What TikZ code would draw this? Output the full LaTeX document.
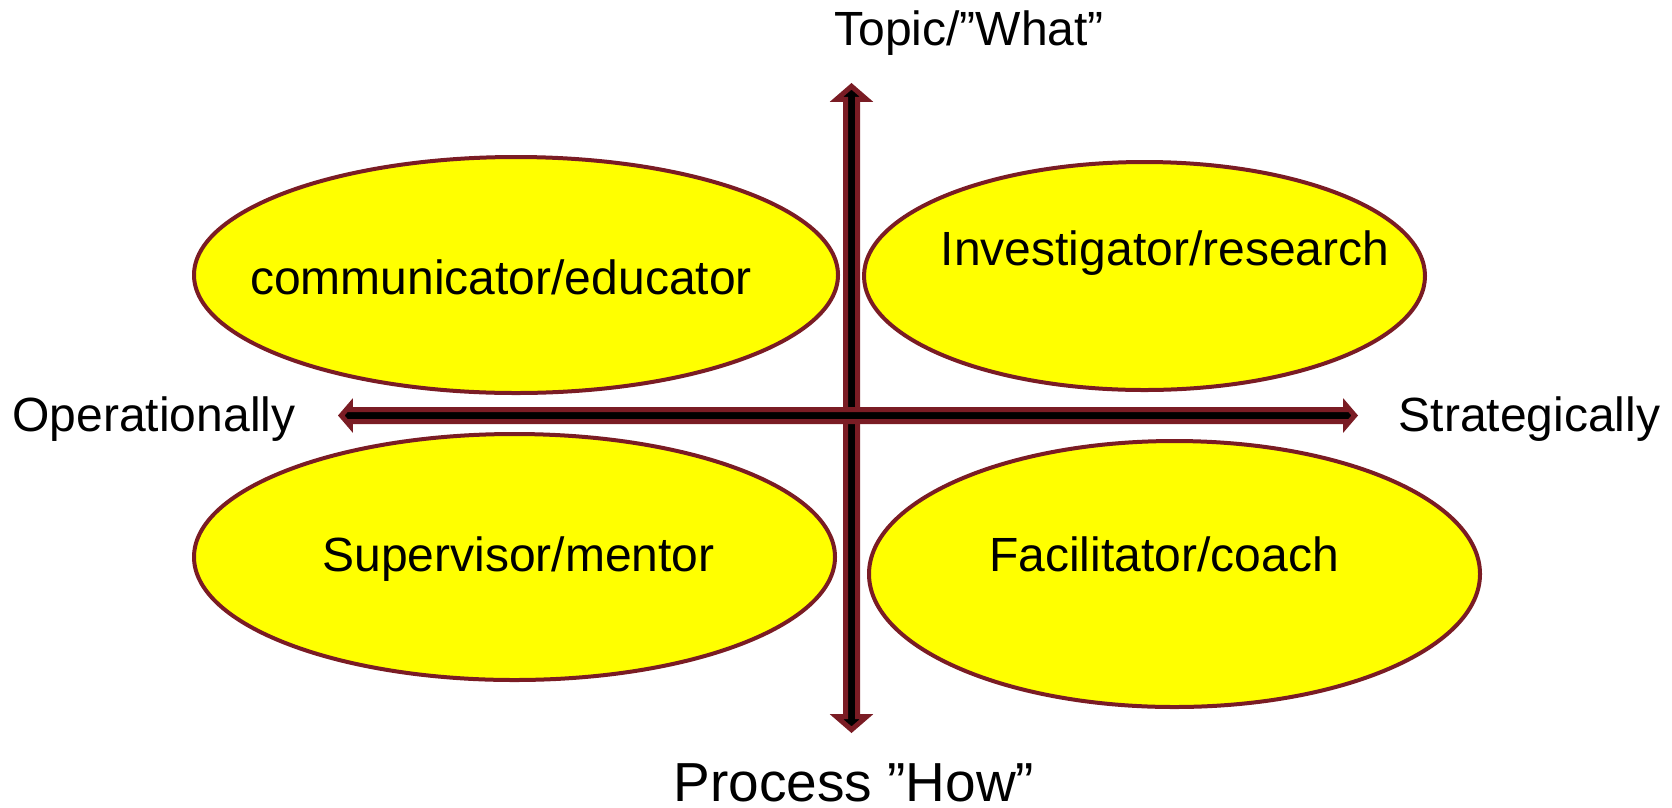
\documentclass[tikz,border=0pt]{standalone}
\usepackage{fontspec}
\setmainfont{Liberation Sans}
\usetikzlibrary{shapes.geometric,calc}
\definecolor{maroon}{RGB}{122,28,36}
\definecolor{ellyellow}{RGB}{255,255,0}
\begin{document}
\begin{tikzpicture}[x=1pt,y=-1pt,
  quad/.style={ellipse, draw=maroon, fill=ellyellow, line width=4pt, inner sep=0pt},
  roletext/.style={anchor=base, inner sep=0pt, font=\fontsize{48}{56}\selectfont},
  axistext/.style={anchor=base, inner sep=0pt, font=\fontsize{48}{56}\selectfont},
  arrowbody/.style={draw=maroon, fill=black, line width=5pt, line join=miter}]
\useasboundingbox (0,0) rectangle (1672,807);

% ellipses
\node[quad, minimum width=644pt, minimum height=236pt] (tl) at (516,275) {};
\node[quad, minimum width=561pt, minimum height=228pt] (tr) at (1144.5,276) {};
\node[quad, minimum width=641pt, minimum height=246pt] (bl) at (514.5,557) {};
\node[quad, minimum width=611pt, minimum height=266pt] (br) at (1174.5,574) {};

% role labels
\node[roletext] (tlt) at (501,294) {communicator/educator};
\node[roletext] (trt) at (1165,265) {Investigator/research};
\node[roletext] (blt) at (518.5,571) {Supervisor/mentor};
\node[roletext] (brt) at (1164,571) {Facilitator/coach};

% axis labels
\node[axistext] (top) at (969,45) {Topic/”What”};
\node[anchor=base, inner sep=0pt, text depth=0pt, font=\fontsize{55}{64}\selectfont] (bot) at (854,801) {Process ”How”};
\node[axistext] (lft) at (154,431) {Operationally};
\node[axistext] (rgt) at (1529.5,431) {Strategically};

% axes
\coordinate (vtop) at (851.5,86.3);
\coordinate (vbot) at (851.5,729.7);
\coordinate (hleft) at (341.3,415.5);
\coordinate (hright) at (1354.7,415.5);

\draw[arrowbody] (vtop) -- ++(15,13) -- ++(-9,0) -- ($(vbot)+(6,-13)$) -- ++(9,0)
  -- (vbot) -- ++(-15,-13) -- ++(9,0) -- ($(vtop)+(-6,13)$) -- ++(-9,0) -- cycle;

\draw[arrowbody] (hleft) -- ++(9,-10.5) -- ++(0,4.5) -- ($(hright)+(-9,-6)$) -- ++(0,-4.5)
  -- (hright) -- ++(-9,10.5) -- ++(0,-4.5) -- ($(hleft)+(9,6)$) -- ++(0,4.5) -- cycle;
\end{tikzpicture}
\end{document}
